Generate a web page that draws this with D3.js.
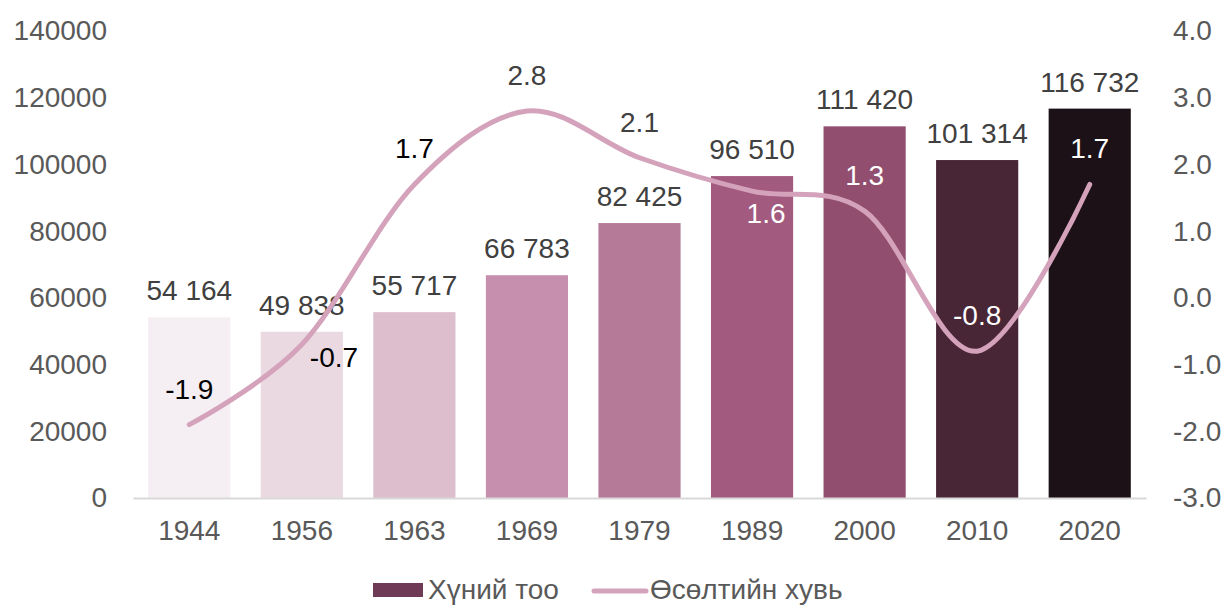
<!DOCTYPE html>
<html>
<head>
<meta charset="utf-8">
<script src="https://cdn.jsdelivr.net/npm/d3@7"></script>
<style>
  body { margin: 0; background: #fff; }
  svg text { font-family: "Liberation Sans", Arial, sans-serif; }
</style>
</head>
<body>
<div class="plots"></div>
<script>
// census years, population and growth rate (%)
var years = ["1944", "1956", "1963", "1969", "1979", "1989", "2000", "2010", "2020"];
var population = [54164, 49838, 55717, 66783, 82425, 96510, 111420, 101314, 116732];
var growth = [-1.9, -0.7, 1.7, 2.8, 2.1, 1.6, 1.3, -0.8, 1.7];
var leftTicks = [0, 20000, 40000, 60000, 80000, 100000, 120000, 140000];
var rightTicks = [-3, -2, -1, 0, 1, 2, 3, 4];
var seriesNames = ["Хүний тоо", "Өсөлтийн хувь"];

var barColors = ["#f5eef3", "#ead9e1", "#dcbecc", "#c68fad", "#b57a98",
                 "#a35a7f", "#914e6e", "#482636", "#1d1118"];
var lineColor = "#d4a3bb";
// where each growth label sits relative to its point
var labelPos = ["above", "right", "above", "above", "above", "below", "above", "above", "above"];

var width = 1227, height = 605;
var margin = {top: 31, right: 81, bottom: 107, left: 133};

// plain hyphen for negatives, space as thousands separator
var loc = d3.formatLocale({decimal: ".", thousands: " ", grouping: [3], currency: ["", ""], minus: "-"});
var fmtInt = loc.format("d");
var fmtPop = loc.format(",");
var fmt1 = loc.format(".1f");

var svg = d3.select(".plots").append("svg")
      .attr("width", width)
      .attr("height", height);

var x = d3.scaleBand()
          .domain(years)
          .range([margin.left, width - margin.right])
          .paddingInner(0.27)
          .paddingOuter(0.135);

var y = d3.scaleLinear()
          .domain([0, 140000])
          .range([height - margin.bottom, margin.top]);

var y2 = d3.scaleLinear()
          .domain([-3, 4])
          .range([height - margin.bottom, margin.top]);

// left axis
var yAxis = svg.append("g")
    .attr("transform", "translate(" + margin.left + ",0)")
    .call(d3.axisLeft(y).tickValues(leftTicks).tickSize(0).tickPadding(26).tickFormat(fmtInt));
yAxis.select(".domain").remove();

// right axis
var y2Axis = svg.append("g")
    .attr("transform", "translate(" + (width - margin.right) + ",0)")
    .call(d3.axisRight(y2).tickValues(rightTicks).tickSize(0).tickPadding(27).tickFormat(fmt1));
y2Axis.select(".domain").remove();

// x axis
var xAxis = svg.append("g")
    .attr("transform", "translate(0," + (height - margin.bottom) + ")")
    .call(d3.axisBottom(x).tickSize(0).tickPadding(22));
xAxis.select(".domain").attr("stroke", "#d9d9d9").attr("stroke-width", 2);

svg.selectAll(".tick text")
    .attr("fill", "#595959")
    .style("font-size", "28px");

// bars
svg.selectAll(".bar")
    .data(population)
    .enter().append("rect")
    .attr("class", "bar")
    .attr("x", function(d, i) { return x(years[i]); })
    .attr("y", function(d) { return y(d); })
    .attr("width", x.bandwidth())
    .attr("height", function(d) { return y(0) - y(d); })
    .attr("fill", function(d, i) { return barColors[i]; });

// keep baseline above the bars
xAxis.raise();

svg.selectAll(".barlabel")
    .data(population)
    .enter().append("text")
    .attr("class", "barlabel")
    .attr("x", function(d, i) { return x(years[i]) + x.bandwidth() / 2; })
    .attr("y", function(d) { return y(d) - 17; })
    .attr("text-anchor", "middle")
    .attr("fill", "#404040")
    .style("font-size", "28px")
    .text(fmtPop);

// growth line
var line = d3.line()
    .x(function(d, i) { return x(years[i]) + x.bandwidth() / 2; })
    .y(function(d) { return y2(d); })
    .curve(d3.curveCardinal.tension(0));

svg.append("path")
    .datum(growth)
    .attr("fill", "none")
    .attr("stroke", lineColor)
    .attr("stroke-width", 5)
    .attr("stroke-linejoin", "round")
    .attr("stroke-linecap", "round")
    .attr("d", line);

svg.selectAll(".linelabel")
    .data(growth)
    .enter().append("text")
    .attr("class", "linelabel")
    .attr("x", function(d, i) {
      var cx = x(years[i]) + x.bandwidth() / 2;
      if (labelPos[i] == "right") return cx + 8;
      if (labelPos[i] == "below") return cx + 14;
      return cx;
    })
    .attr("y", function(d, i) {
      var cy = y2(d);
      if (labelPos[i] == "right") return cy + 22;
      if (labelPos[i] == "below") return cy + 32;
      return cy - 26;
    })
    .attr("text-anchor", function(d, i) { return labelPos[i] == "right" ? "start" : "middle"; })
    .attr("fill", function(d, i) {
      var ly = y2(d) - 36;
      if (labelPos[i] != "above") ly = y2(d);
      var inside = ly > y(population[i]);
      if (!inside) return i < 3 ? "#000" : "#404040";
      return i >= 5 ? "#fff" : "#000";
    })
    .style("font-size", "28px")
    .text(fmt1);

// legend
var legend = svg.append("g").attr("transform", "translate(373,0)");
legend.append("rect")
    .attr("x", 0).attr("y", 583)
    .attr("width", 50).attr("height", 14)
    .attr("fill", "#6e3a55");
legend.append("text")
    .attr("x", 55).attr("y", 599)
    .attr("fill", "#595959")
    .style("font-size", "28px")
    .text(seriesNames[0]);
legend.append("line")
    .attr("x1", 221).attr("x2", 273)
    .attr("y1", 591).attr("y2", 591)
    .attr("stroke", lineColor)
    .attr("stroke-width", 5)
    .attr("stroke-linecap", "round");
legend.append("text")
    .attr("x", 277).attr("y", 599)
    .attr("fill", "#595959")
    .style("font-size", "28px")
    .text(seriesNames[1]);
</script>
</body>
</html>
